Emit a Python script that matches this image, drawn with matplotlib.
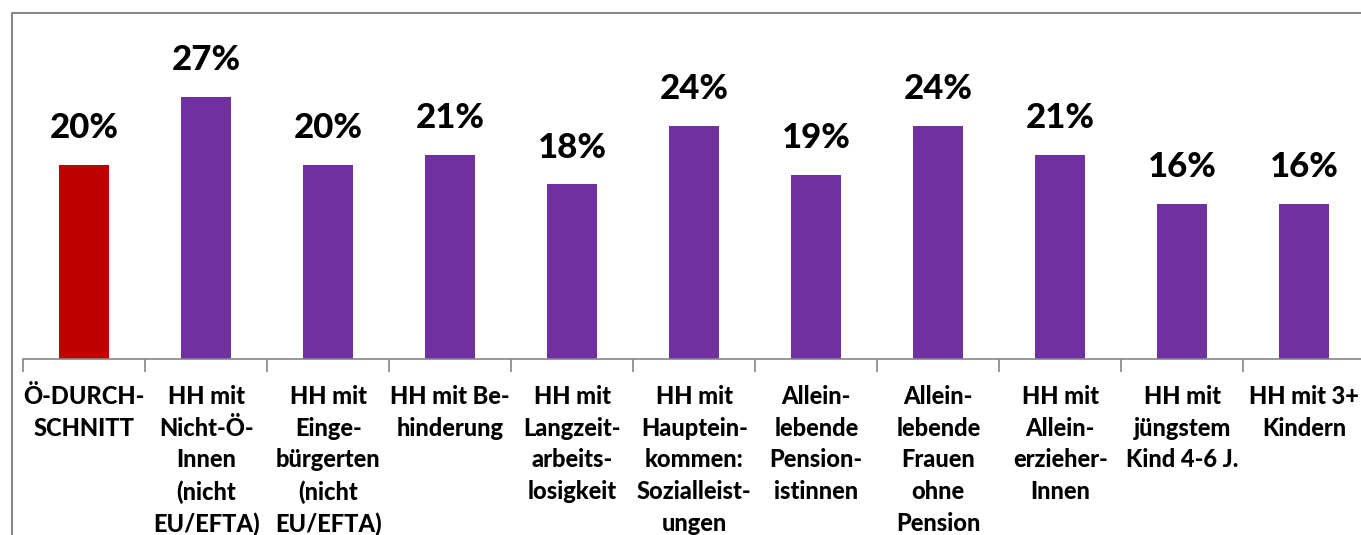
import matplotlib.pyplot as plt
import numpy as np
from matplotlib.patches import Rectangle

categories = ["Ö-DURCH-\nSCHNITT",
              "HH mit\nNicht-Ö-\nInnen\n(nicht\nEU/EFTA)",
              "HH mit\nEinge-\nbürgerten\n(nicht\nEU/EFTA)",
              "HH mit Be-\nhinderung",
              "HH mit\nLangzeit-\narbeits-\nlosigkeit",
              "HH mit\nHauptein-\nkommen:\nSozialleist-\nungen",
              "Allein-\nlebende\nPension-\nistinnen",
              "Allein-\nlebende\nFrauen\nohne\nPension",
              "HH mit\nAllein-\nerzieher-\nInnen",
              "HH mit\njüngstem\nKind 4-6 J.",
              "HH mit 3+\nKindern"]
values = [20, 27, 20, 21, 18, 24, 19, 24, 21, 16, 16]
bar_colors = ["#C00000"] + ["#7030A0"] * 10

plt.rcParams['font.family'] = ['Lato', 'DejaVu Sans']

fig = plt.figure(figsize=(13.61, 5.35), dpi=100)
# chart border (grey frame, runs off right/bottom)
fig.patches.append(Rectangle((12 / 1361, -0.1), 1.2, 1 - 13 / 535 + 0.1,
                             transform=fig.transFigure, fill=False,
                             edgecolor="#878787", linewidth=1.5))

ax = fig.add_axes([23.3 / 1361, 1 - 359 / 535, 1342 / 1361, 291 / 535])
x = np.arange(len(values))
ax.bar(x, values, width=0.41, color=bar_colors, zorder=2)
ax.set_xlim(-0.5, len(values) - 0.5)
ax.set_ylim(0, 30)

for xi, v in zip(x, values):
    ax.annotate(f"{v}%", (xi, v), xytext=(0, 15), textcoords="offset points",
                ha="center", va="bottom", fontsize=25, fontweight=900)

for s in ["top", "right", "left"]:
    ax.spines[s].set_visible(False)
ax.spines["bottom"].set_color("#868686")
ax.spines["bottom"].set_linewidth(1.2)
ax.set_yticks([])

ax.set_xticks(x)
ax.set_xticklabels(categories, fontsize=17, fontweight=900)
for lbl in ax.get_xticklabels():
    lbl.set_linespacing(1.45)
ax.tick_params(axis="x", which="major", length=0, pad=19)
ax.set_xticks(np.arange(len(values) + 1) - 0.5, minor=True)
ax.tick_params(axis="x", which="minor", length=9, color="#868686", width=1.2)

fig.savefig("out.png", dpi=100)
